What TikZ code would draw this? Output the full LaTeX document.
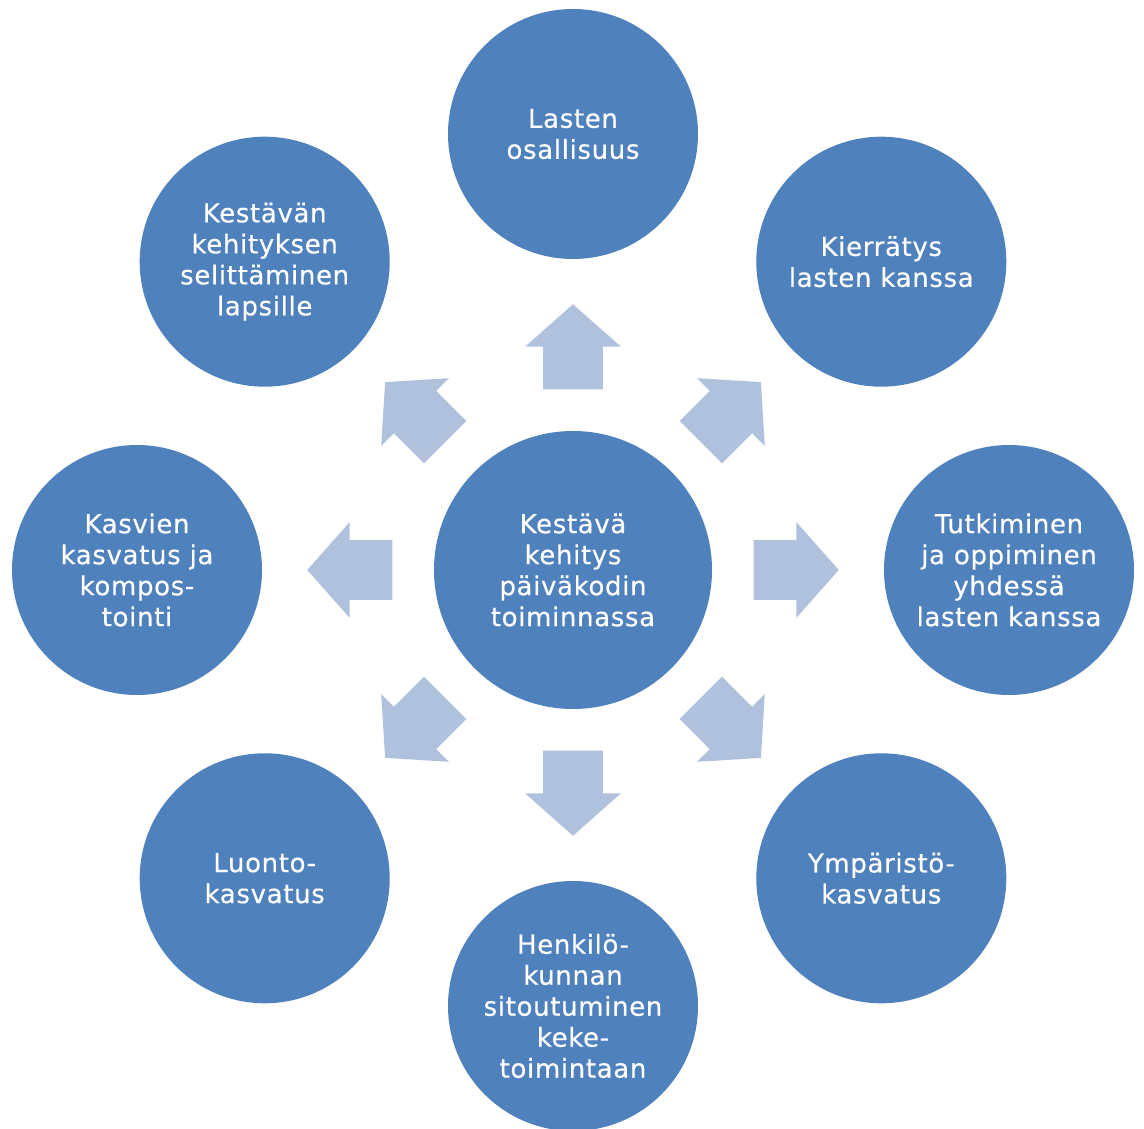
\documentclass[tikz,border=0pt]{standalone}
\usepackage{fontspec}
\setmainfont{DejaVu Sans}[LetterSpace=2.5, FakeBold=0.4]
\usetikzlibrary{shapes.arrows}
\definecolor{keke}{HTML}{4F81BD}
\definecolor{kekelight}{HTML}{B0C1DE}
\tikzset{
	ball/.style={circle, fill=keke, text=white, align=center, inner sep=0pt, minimum size=125pt,
		font=\fontsize{13}{15.5}\selectfont},
	hubball/.style={ball, minimum size=139pt},
	blockarrow/.style={single arrow, fill=kekelight, inner xsep=0pt, inner ysep=14.75pt,
		minimum height=42.5pt, single arrow head extend=9pt, single arrow tip angle=97,
		rotate=#1}
}
\begin{document}
\begin{tikzpicture}[x=0.5pt, y=0.5pt]
\useasboundingbox (-573,-558) rectangle (571,570);
\node[hubball] (hub) at (0,0) {Kestävä\\kehitys\\päiväkodin\\toiminnassa};
\foreach \a/\n/\t in {90/lasten/{Lasten\\osallisuus}, 45/kierratys/{Kierrätys\\lasten kanssa},
	0/tutkiminen/{Tutkiminen\\ja oppiminen\\yhdessä\\lasten kanssa}, -45/ymparisto/{Ympäristö-\\kasvatus},
	-90/henkilo/{Henkilö-\\kunnan\\sitoutuminen\\keke-\\toimintaan}, -135/luonto/{Luonto-\\kasvatus},
	180/kasvien/{Kasvien\\kasvatus ja\\kompos-\\tointi}, 135/selitys/{Kestävän\\kehityksen\\selittäminen\\lapsille}}{
	\node[ball] (\n) at (\a:436) {\t};
	\node[blockarrow=\a] (arrow-\n) at (\a:210) {};
}
\end{tikzpicture}
\end{document}
